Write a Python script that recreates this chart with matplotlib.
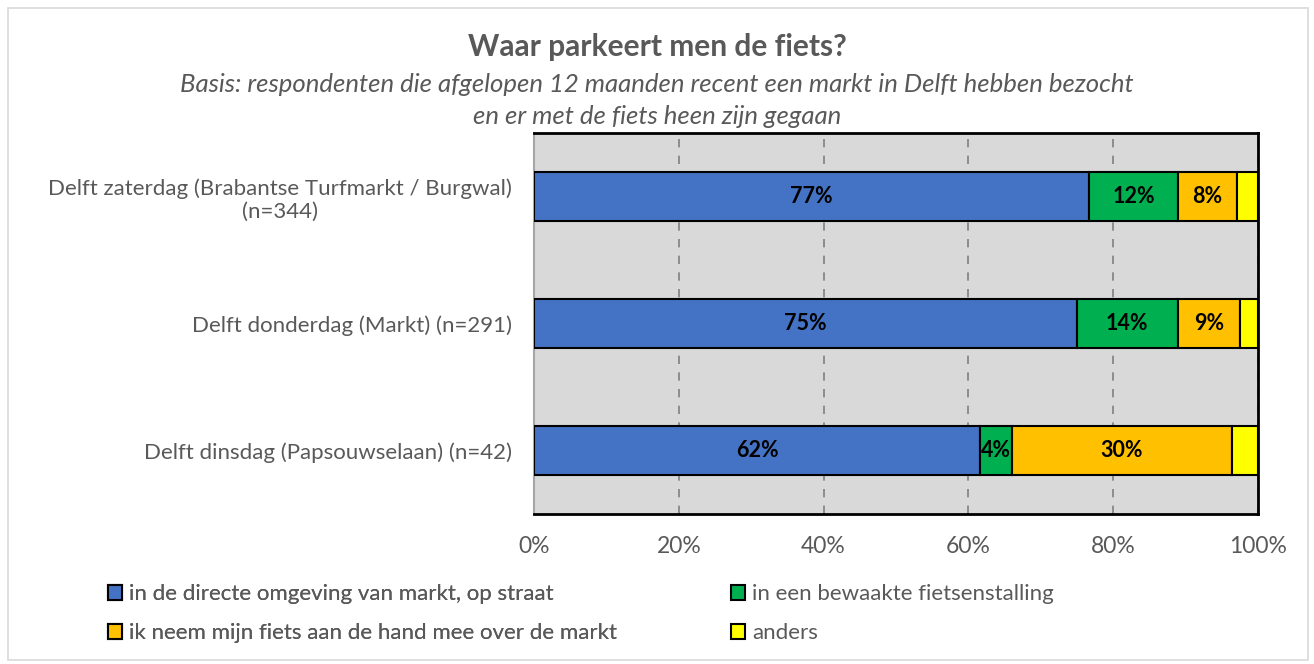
import matplotlib
matplotlib.use("Agg")
import matplotlib.pyplot as plt
from matplotlib.patches import Rectangle

categories = [
    "Delft zaterdag (Brabantse Turfmarkt / Burgwal)\n(n=344)",
    "Delft donderdag (Markt) (n=291)",
    "Delft dinsdag (Papsouwselaan) (n=42)",
]
series_names = [
    "in de directe omgeving van markt, op straat",
    "in een bewaakte fietsenstalling",
    "ik neem mijn fiets aan de hand mee over de markt",
    "anders",
]
direct_straat = [76.6, 75.0, 61.6]
bewaakte_stalling = [12.4, 13.9, 4.4]
aan_de_hand = [8.1, 8.6, 30.4]
anders = [2.9, 2.5, 3.6]
show_label = [True, True, True, False]
xticks = [0, 20, 40, 60, 80, 100]
xtick_labels = ["0%", "20%", "40%", "60%", "80%", "100%"]

colors = ["#4472C4", "#00B050", "#FFC000", "#FFFF00"]
series = [direct_straat, bewaakte_stalling, aan_de_hand, anders]

plt.rcParams['font.family'] = ['Lato', 'DejaVu Sans']
textc = "#595959"

fig = plt.figure(figsize=(13.14, 6.64), dpi=100)
ax = fig.add_axes([534/1314, 1-514/664, (1258-534)/1314, (514-133)/664])
ax.set_facecolor("#D9D9D9")

y = list(range(len(categories)))[::-1]
left = [0.0] * len(categories)
handles = []
for name, vals, col, lab in zip(series_names, series, colors, show_label):
    bars = ax.barh(y, vals, left=left, height=0.39, color=col, edgecolor="black",
                   linewidth=1.5, label=name, zorder=3)
    handles.append(bars)
    if lab:
        for yi, l, v in zip(y, left, vals):
            ax.text(l + v / 2, yi, f"{round(v)}%", ha="center", va="center",
                    fontsize=15.5, fontweight="bold", color="black", zorder=4)
    left = [a + b for a, b in zip(left, vals)]

ax.set_xlim(0, 100)
ax.set_ylim(-0.5, 2.5)
ax.set_xticks(xticks)
ax.set_xticklabels(xtick_labels, fontsize=16.5, color=textc)
ax.set_yticks(y)
ax.set_yticklabels(categories, fontsize=16, color=textc, ha="right")
ax.tick_params(axis="y", length=0, pad=16)
ax.tick_params(axis="x", length=0, pad=16)
for lbl in ax.get_yticklabels():
    lbl.set_multialignment("center")
ax.xaxis.grid(True, color="#7F7F7F", linestyle=(0, (5, 5)), linewidth=1.2, zorder=1)
ax.set_axisbelow(True)
for s in ["top", "right", "bottom"]:
    ax.spines[s].set_color("black")
    ax.spines[s].set_linewidth(2)
ax.spines["left"].set_color("#A6A6A6")
ax.spines["left"].set_linewidth(1.5)

fig.text(0.5, 1 - 47/664, "Waar parkeert men de fiets?", ha="center", va="center",
         fontsize=21.5, fontweight="bold", color=textc)
fig.text(0.5, 1 - 85/664, "Basis: respondenten die afgelopen 12 maanden recent een markt in Delft hebben bezocht",
         ha="center", va="center", fontsize=18.5, style="italic", color=textc)
fig.text(0.5, 1 - 116/664, "en er met de fiets heen zijn gegaan",
         ha="center", va="center", fontsize=18.5, style="italic", color=textc)

leg_kw = dict(ncol=1, loc="upper left", frameon=False, fontsize=16, labelcolor=textc,
              handlelength=0.65, handleheight=0.65, handletextpad=0.3, labelspacing=0.85,
              borderaxespad=0, borderpad=0)
leg1 = fig.legend(handles=[handles[0], handles[2]], labels=[series_names[0], series_names[2]],
                  bbox_to_anchor=(108/1314, 1 - 584/664), **leg_kw)
fig.add_artist(leg1)
leg2 = fig.legend(handles=[handles[1], handles[3]], labels=[series_names[1], series_names[3]],
                  bbox_to_anchor=(731/1314, 1 - 584/664), **leg_kw)

fig.add_artist(Rectangle((8/1314, 4/664), 1300/1314, 652/664, transform=fig.transFigure,
                         fill=False, edgecolor="#D9D9D9", linewidth=1.2))

fig.savefig("out.png", dpi=100)
